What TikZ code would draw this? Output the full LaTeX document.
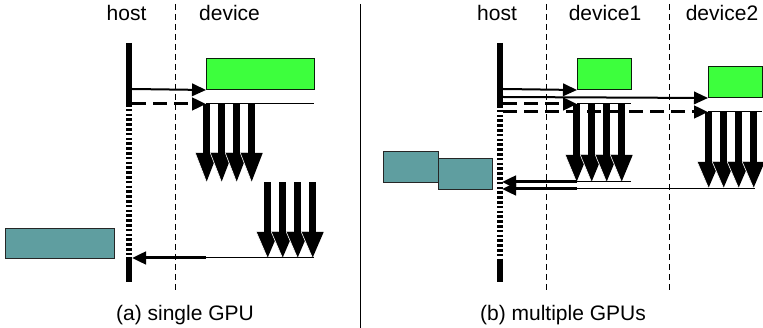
\documentclass[tikz,border=0pt]{standalone}
\usepackage{fontspec}
\setmainfont{Liberation Sans}
\usetikzlibrary{arrows.meta}
\definecolor{boxgreen}{HTML}{3DFF3D}
\definecolor{boxteal}{HTML}{5F9EA0}
\definecolor{boxedge}{HTML}{0A200A}
\newcommand\myfatarrows[4]{%
  \foreach \i in {0,1,2,3}{\fill (#1+15*\i-3.5,#2) rectangle (#1+15*\i+3.5,#3+0.5);}
  \foreach \i in {0,1,2,3}{\fill (#1+15*\i-11.2,#3) -- (#1+15*\i+11.2,#3) -- (#1+15*\i,#4) -- cycle;
    \draw[white,line width=0.6pt] (#1+15*\i-11.2,#3) -- (#1+15*\i,#4);}%
}
\begin{document}
\begin{tikzpicture}[x=1pt,y=-1pt,
  lbl/.style={font=\fontsize{21}{25}\selectfont, inner sep=0, anchor=base},
  gbox/.style={draw=boxedge, fill=boxgreen, line width=1pt, inner sep=0, anchor=north west},
  tbox/.style={draw=black!85, fill=boxteal, line width=1pt, inner sep=0, anchor=north west},
  lane/.style={line width=0.9pt, dash pattern=on 6pt off 4pt},
  sep/.style={line width=1pt},
  hostsolid/.style={line width=6pt},
  hostdots/.style={line width=6pt, dash pattern=on 2.6pt off 2.2pt},
  tipA/.style={-{Triangle[length=14pt,width=12.5pt]}},
  call/.style={line width=2pt, tipA},
  dcall/.style={line width=3pt, dash pattern=on 14pt off 7pt, tipA},
  ret/.style={line width=3pt, tipA},
  thinl/.style={line width=1pt}
]
\useasboundingbox (0,0) rectangle (763,328);

% ---------- (a) single GPU ----------
\node[lbl] (hostA) at (126.5,21) {host};
\node[lbl] (devA) at (229.5,21) {device};
\draw[lane] (175,4) -- (175,290);
\draw[sep] (360,4) -- (360,328);

\coordinate (hA0) at (129,43);
\coordinate (hA1) at (129,104);
\coordinate (hA2) at (129,257);
\coordinate (hA3) at (129,282);
\draw[hostsolid] (hA0) -- (hA1);
\draw[hostdots] (hA1) -- (hA2);
\draw[hostsolid] (hA2) -- (hA3);

\node[gbox, minimum width=108pt, minimum height=31pt] (ga) at (206,58) {};
\coordinate (aS1) at (132,89);
\coordinate (aS2) at (132,104);
\coordinate (aK1) at (206,104);
\coordinate (aK1e) at (314,104);
\draw[call] (aS1) -- (ga.south west);
\draw[thinl] (aK1) -- (aK1e);
\myfatarrows{206.5}{104}{153}{182}
\draw[dcall] (aS2) -- (aK1);

\myfatarrows{267.5}{182}{232}{258}
\coordinate (aR0) at (314,258);
\coordinate (aR1) at (206,258);
\coordinate (aR2) at (132,258);
\draw[thinl] (aR0) -- (aR1);
\draw[ret] (aR1) -- (aR2);
\node[tbox, minimum width=109pt, minimum height=30pt] (ta) at (5,228) {};

\node[lbl] (capA) at (185,321) {(a) single GPU};

% ---------- (b) multiple GPUs ----------
\node[lbl] (hostB) at (497,21) {host};
\node[lbl] (devB1) at (605,21) {device1};
\node[lbl] (devB2) at (722,21) {device2};
\draw[lane] (546,4) -- (546,290);
\draw[lane] (669,4) -- (669,290);

\coordinate (hB0) at (500,43);
\coordinate (hB1) at (500,105);
\coordinate (hB2) at (500,260);
\coordinate (hB3) at (500,282);
\draw[hostsolid] (hB0) -- (hB1);
\draw[hostdots] (hB1) -- (hB2);
\draw[hostsolid] (hB2) -- (hB3);

\node[gbox, minimum width=54pt, minimum height=31pt] (gb1) at (577,58) {};
\node[gbox, minimum width=54pt, minimum height=31pt] (gb2) at (708,66) {};

\coordinate (bS1) at (503,89);
\coordinate (bS2) at (503,97);
\coordinate (bS3) at (503,104);
\coordinate (bS4) at (503,112);
\coordinate (bK1) at (577,104);
\coordinate (bK1e) at (631,104);
\coordinate (bK2) at (708,112);
\coordinate (bK2e) at (762,112);

\draw[thinl] (bK1) -- (bK1e);
\draw[thinl] (bK2) -- (bK2e);
\myfatarrows{576.5}{104}{155}{182}
\myfatarrows{708.5}{112}{162}{188}
\draw[call] (bS1) -- (gb1.south west);
\draw[call] (bS2) -- (gb2.south west);
\draw[dcall] (bS3) -- (bK1);
\draw[dcall] (bS4) -- (bK2);

\coordinate (bR10) at (631,182);
\coordinate (bR11) at (577,182);
\coordinate (bR12) at (502,182);
\coordinate (bR20) at (755,189);
\coordinate (bR21) at (577,189);
\coordinate (bR22) at (502,189);
\draw[thinl] (bR10) -- (bR11);
\draw[ret] (bR11) -- (bR12);
\draw[thinl] (bR20) -- (bR21);
\draw[ret] (bR21) -- (bR22);

\node[tbox, minimum width=55pt, minimum height=31pt] (tb1) at (383,151) {};
\node[tbox, minimum width=54pt, minimum height=31pt] (tb2) at (438,158) {};

\node[lbl] (capB) at (563,321) {(b) multiple GPUs};
\end{tikzpicture}
\end{document}
